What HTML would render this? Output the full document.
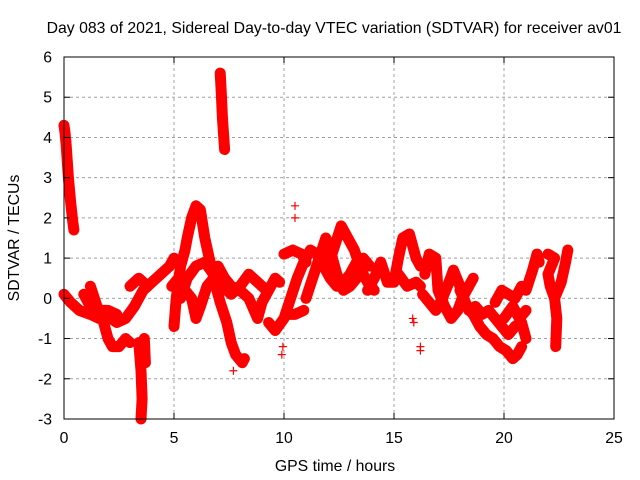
<!DOCTYPE html>
<html><head><meta charset="utf-8"><style>
body{margin:0;background:#fff}
svg{display:block;font-family:"Liberation Sans",sans-serif}
</style></head><body>
<svg id="c" width="640" height="480">
<text x="334" y="33" font-size="15.8" text-anchor="middle">Day 083 of 2021, Sidereal Day-to-day VTEC variation (SDTVAR) for receiver av01</text>
<text x="335" y="471" font-size="15.8" text-anchor="middle">GPS time / hours</text>
<text transform="translate(19,238) rotate(-90)" font-size="15.8" text-anchor="middle">SDTVAR / TECUs</text>
<g id="grid"></g><g id="marks"></g><g id="axes"></g>
</svg>
<script>
const xTicks=[0,5,10,15,20,25];
const yTicks=[-3,-2,-1,0,1,2,3,4,5,6];
const trackA=[[0,4.3],[0.05,4.1],[0.1,3.8],[0.2,3.0],[0.3,2.4],[0.4,1.9],[0.45,1.7]];
const trackB=[[0,0.1],[0.3,-0.1],[0.7,-0.3],[1.2,-0.4],[1.6,-0.5],[2.0,-0.45],[2.4,-0.6],[2.8,-0.5],[3.2,-0.2],[3.6,0.2],[4.0,0.4],[4.4,0.6],[4.8,0.8],[5.0,1.0]];
const trackB2=[[0.9,0.1],[1.2,-0.2],[1.6,-0.3],[2.0,-0.3],[2.4,-0.4]];
const trackC=[[1.2,0.3],[1.5,-0.2],[1.8,-0.6],[2.0,-1.0],[2.2,-1.2],[2.5,-1.2],[2.8,-1.0],[3.0,-1.1]];
const trackD=[[3.4,-1.1],[3.5,-1.8],[3.55,-2.5],[3.5,-3.0]];
const trackD2=[[3.65,-1.0],[3.7,-1.6]];
const trackE=[[3.0,0.3],[3.4,0.5],[3.8,0.3]];
const trackF=[[5.0,-0.7],[5.1,0.0],[5.3,0.8],[5.5,1.2],[5.6,1.5],[5.8,2.0],[6.0,2.3],[6.2,2.2],[6.4,1.5],[6.6,1.0],[6.9,0.3],[7.1,-0.1],[7.4,-0.6],[7.6,-1.1],[7.8,-1.4],[8.1,-1.6],[8.2,-1.5]];
const trackG=[[4.9,0.3],[5.2,0.5],[5.5,0.2],[5.8,0.0],[6.0,-0.5],[6.2,-0.2],[6.5,0.3],[6.8,0.5],[7.0,0.8],[7.3,0.5],[7.6,0.3],[8.0,0.2],[8.4,0.0],[8.8,-0.5],[9.0,-0.1],[9.3,0.2],[9.6,0.5],[9.8,0.4]];
const trackH=[[5.3,0.0],[5.6,0.5],[6.0,0.8],[6.4,0.9],[6.8,0.6],[7.2,0.3],[7.6,0.1],[8.0,0.3],[8.4,0.6],[8.8,0.4],[9.2,0.2]];
const trackSpike=[[7.1,5.6],[7.15,5.1],[7.2,4.5],[7.25,4.1],[7.3,3.7]];
const trackI=[[9.3,-0.6],[9.6,-0.8],[10.0,-0.5],[10.3,0.0],[10.6,0.5],[10.9,0.9],[11.2,1.2],[11.5,1.1],[11.8,0.8],[12.1,0.5],[12.4,0.3],[12.7,0.4],[13.0,0.6],[13.3,0.9],[13.6,1.0],[13.9,0.8]];
const trackJ=[[10.0,1.1],[10.4,1.2],[10.8,1.1],[11.0,0.9]];
const trackJ2=[[10.2,-0.4],[10.5,-0.4],[10.9,-0.3]];
const trackK=[[11.0,0.0],[11.3,0.5],[11.6,1.0],[11.9,1.5],[12.1,1.2],[12.4,0.6],[12.7,0.2],[13.0,0.3],[13.3,0.5]];
const trackL=[[12.0,0.8],[12.3,1.3],[12.6,1.8],[12.9,1.5],[13.2,1.2],[13.5,0.7],[13.8,0.4],[14.1,0.2]];
const trackM=[[13.8,0.2],[14.1,0.5],[14.4,0.9],[14.7,0.4],[15.0,0.4],[15.2,1.0],[15.4,1.5],[15.7,1.6],[16.0,1.0],[16.2,0.8]];
const trackM2=[[15.2,0.6],[15.6,0.3],[16.0,0.4],[16.2,0.3]];
const trackN=[[16.4,0.6],[16.6,1.1],[16.9,1.0],[17.0,0.2],[17.3,-0.2],[17.6,-0.5],[17.9,-0.3],[18.1,0.0],[18.4,0.3],[18.6,0.5]];
const trackO=[[16.3,0.1],[16.6,-0.1],[16.9,-0.3],[17.2,0.0],[17.5,0.4],[17.7,0.7],[18.0,0.3],[18.3,-0.2],[18.6,-0.4],[18.9,-0.7],[19.2,-0.9],[19.5,-1.0],[19.8,-1.2],[20.1,-1.3],[20.4,-1.5],[20.6,-1.4],[20.8,-1.2]];
const trackP=[[18.0,0.2],[18.4,-0.3],[18.7,-0.2],[19.0,-0.4],[19.3,-0.3],[19.6,-0.5],[19.9,-0.7],[20.2,-0.9],[20.5,-0.7],[20.8,-0.6],[21.0,-1.0]];
const trackQ=[[19.6,-0.1],[19.9,0.2],[20.2,0.1],[20.5,0.0],[20.8,0.3],[21.0,0.2],[21.3,0.7],[21.5,1.1],[21.6,0.9]];
const trackR=[[20.0,-0.5],[20.4,-0.2],[20.7,-0.5],[21.0,-0.3]];
const trackS=[[22.0,1.1],[22.3,1.0],[22.0,0.6],[22.1,0.3],[22.3,0.0],[22.4,-0.5],[22.35,-1.2]];
const trackT=[[22.3,0.0],[22.6,0.4],[22.8,0.9],[22.9,1.2]];
const isolated=[[16.2,-1.3],[16.2,-1.2],[15.9,-0.6],[15.85,-0.5],[7.7,-1.8],[9.9,-1.4],[9.95,-1.2],[10.5,2.3],[10.5,2.0],[3.5,-2.7],[7.1,5.15]];
const tracks=[trackA,trackB,trackB2,trackC,trackD,trackD2,trackE,trackF,trackG,trackH,trackSpike,trackI,trackJ,trackJ2,trackK,trackL,trackM,trackM2,trackN,trackO,trackP,trackQ,trackR,trackS,trackT];

const X0=64,X1=614,Y0=419,Y1=57,xmin=0,xmax=25,ymin=-3,ymax=6;
const sx=h=>X0+(h-xmin)/(xmax-xmin)*(X1-X0);
const sy=v=>Y0-(v-ymin)/(ymax-ymin)*(Y0-Y1);
const NS='http://www.w3.org/2000/svg';
function mk(tag,attrs,parent){const e=document.createElementNS(NS,tag);for(const k in attrs)e.setAttribute(k,attrs[k]);parent.appendChild(e);return e;}
const grid=document.getElementById('grid'),marks=document.getElementById('marks'),axes=document.getElementById('axes');
xTicks.forEach(t=>{
  if(t>xmin&&t<xmax){const l=mk('line',{x1:sx(t),x2:sx(t),y1:Y0,y2:Y1,stroke:'#a0a0a0','stroke-dasharray':'3,3'},grid);
  
  }
  mk('line',{x1:sx(t),x2:sx(t),y1:Y0,y2:Y0-6,stroke:'#000'},axes);
  mk('line',{x1:sx(t),x2:sx(t),y1:Y1,y2:Y1+6,stroke:'#000'},axes);
  const tx=mk('text',{x:sx(t),y:Y0+24,'font-size':15.8,'text-anchor':'middle'},axes);tx.textContent=t;
  
  
});
yTicks.forEach(t=>{
  if(t>ymin&&t<ymax){const l=mk('line',{x1:X0,x2:X1,y1:sy(t),y2:sy(t),stroke:'#a0a0a0','stroke-dasharray':'3,3'},grid);
  
  }
  mk('line',{x1:X0,x2:X0+6,y1:sy(t),y2:sy(t),stroke:'#000'},axes);
  mk('line',{x1:X1,x2:X1-6,y1:sy(t),y2:sy(t),stroke:'#000'},axes);
  const tx=mk('text',{x:X0-12,y:sy(t)+5.5,'font-size':15.8,'text-anchor':'end'},axes);tx.textContent=t;
  
  
});
const fr=mk('rect',{x:X0,y:Y1,width:X1-X0,height:Y0-Y1,fill:'none',stroke:'#000'},axes);


function plus(h,v){const x=sx(h),y=sy(v);
  const p=mk('path',{d:`M${x-4},${y}h8M${x},${y-4}v8`,stroke:'#f00','stroke-width':1.2,fill:'none'},marks);
  
  }
tracks.forEach(tr=>{
  const pl=mk('polyline',{points:tr.map(p=>sx(p[0])+','+sy(p[1])).join(' '),fill:'none',stroke:'#f00','stroke-width':11,'stroke-linejoin':'round','stroke-linecap':'round'},marks);
  
  
  tr.forEach(p=>plus(p[0],p[1]));
});
isolated.forEach(p=>plus(p[0],p[1]));
</script>
</body></html>
